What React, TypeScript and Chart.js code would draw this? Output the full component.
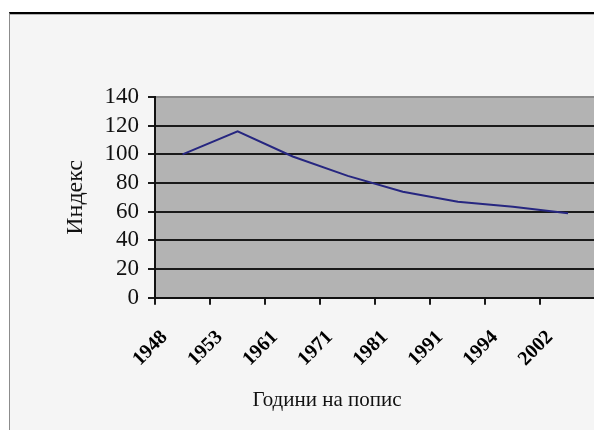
import React, { useEffect, useRef } from "react";
import { Chart, registerables } from "chart.js";

Chart.register(...registerables);

const categories = ["1948", "1953", "1961", "1971", "1981", "1991", "1994", "2002"];
const indexValues = [100, 116, 98.5, 85, 74, 67, 63.5, 59];
const yMin = 0;
const yMax = 140;
const yStep = 20;
const xTitle = "Години на попис";
const yTitle = "Индекс";

const FONT = "'Liberation Serif', 'Times New Roman', serif";

const plotBg = {
  id: "plotBg",
  beforeDraw(chart: any) {
    const { ctx, chartArea } = chart;
    if (!chartArea) return;
    ctx.save();
    ctx.fillStyle = "#b3b3b3";
    ctx.fillRect(chartArea.left, chartArea.top, chartArea.right - chartArea.left, chartArea.bottom - chartArea.top);
    ctx.restore();
  },
};

export default function App() {
  const ref = useRef<HTMLCanvasElement | null>(null);

  useEffect(() => {
    if (!ref.current) return;
    const chart = new Chart(ref.current, {
      type: "line",
      data: {
        labels: categories,
        datasets: [
          {
            data: indexValues,
            borderColor: "#262680",
            borderWidth: 2,
            pointRadius: 0,
            tension: 0,
            fill: false,
          },
        ],
      },
      plugins: [plotBg],
      options: {
        animation: false,
        responsive: false,
        devicePixelRatio: 1,
        layout: { padding: { left: 48, top: 97, right: 0, bottom: 0 } },
        plugins: {
          legend: { display: false },
          tooltip: { enabled: false },
          title: {
            display: true,
            position: "bottom",
            text: xTitle,
            color: "#111",
            font: { family: FONT, size: 21, weight: "normal" },
            padding: { top: 10, bottom: 17 },
          },
        },
        scales: {
          x: {
            type: "category",
            offset: true,
            grid: {
              offset: true,
              drawOnChartArea: false,
              drawTicks: true,
              tickLength: 7,
              color: "#1a1a1a",
              lineWidth: 2,
            },
            border: { display: true, color: "#111", width: 2 },
            ticks: {
              autoSkip: false,
              minRotation: 45,
              maxRotation: 45,
              labelOffset: -18,
              padding: 21,
              color: "#000",
              font: { family: FONT, size: 20, weight: "bold" },
            },
            afterFit(scale: any) {
              scale.height = 80;
            },
          },
          y: {
            min: yMin,
            max: yMax,
            ticks: {
              stepSize: yStep,
              autoSkip: false,
              padding: 9,
              color: "#111",
              font: { family: FONT, size: 23, lineHeight: 1 },
            },
            grid: {
              color: (c: any) => (c.tick && c.tick.value === yMax ? "#8a8a8a" : "#1a1a1a"),
              tickColor: "#1a1a1a",
              lineWidth: 2,
              tickLength: 7,
            },
            border: { display: true, color: "#111", width: 2 },
            title: {
              display: true,
              text: yTitle,
              color: "#111",
              font: { family: FONT, size: 24 },
              padding: { top: 13, bottom: 0 },
            },
            afterFit(scale: any) {
              scale.width = 107;
            },
          },
        },
      },
    } as any);
    return () => chart.destroy();
  }, []);

  return (
    <div style={{ position: "absolute", left: 0, top: 0, width: 594, height: 430, overflow: "hidden", background: "#ffffff" }}>
      <div
        style={{
          position: "absolute",
          left: 9,
          top: 12,
          width: 620,
          height: 440,
          background: "#f5f5f5",
          borderTop: "2px solid #000",
          borderLeft: "1px solid #8c8c8c",
          boxShadow: "inset 0 1px 0 #b0b0b0",
        }}
      />
      <canvas ref={ref} width={606} height={430} style={{ position: "absolute", left: 0, top: 0 }} />
    </div>
  );
}
